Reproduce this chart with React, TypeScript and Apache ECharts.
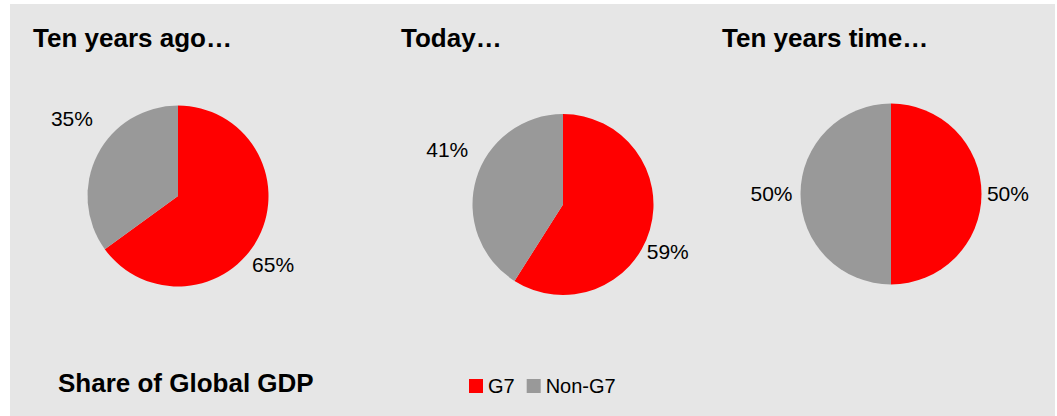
import React, { useEffect, useRef } from "react";
import * as echarts from "echarts";

// ---- data ----
const categories = ["G7", "Non-G7"];
const periods = ["Ten years ago…", "Today…", "Ten years time…"];
const g7Share = [65, 59, 50];
const nonG7Share = [35, 41, 50];
const footnote = "Share of Global GDP";

// ---- layout / style ----
const FONT = "'Liberation Sans', Arial, Helvetica, sans-serif";
const COLORS = ["#ff0000", "#999999"];
const PIE_CENTERS: [number, number][] = [
  [178, 196],
  [563, 204.5],
  [891, 194],
];
const PIE_RADIUS = 90.5;
const TITLE_LEFT = [33, 401, 722];
// per-label nudges (px) from ECharts' default outside position
const LABEL_NUDGE: [number, number][][] = [
  [[-11.6, 27], [0.6, -36]],
  [[-8.2, 22], [-2.8, -30]],
  [[0.4, -1], [-3, -1]],
];

export default function App() {
  const ref = useRef<HTMLDivElement>(null);
  useEffect(() => {
    if (!ref.current) return;
    const chart = echarts.init(ref.current, undefined, { renderer: "svg" });
    const series = periods.map((p, i) => ({
      type: "pie",
      name: p,
      center: PIE_CENTERS[i],
      radius: PIE_RADIUS,
      startAngle: 90,
      clockwise: true,
      avoidLabelOverlap: false,
      silent: true,
      itemStyle: { borderWidth: 0 },
      label: {
        show: true,
        position: "outside",
        formatter: "{c}%",
        fontSize: 21,
        fontFamily: FONT,
        color: "#000",
        distanceToLabelLine: 5,
      },
      labelLine: { show: false, length: 0, length2: 0 },
      labelLayout: (params: any) => {
        const n = LABEL_NUDGE[i][params.dataIndex];
        return { dx: n[0], dy: n[1] };
      },
      data: [
        { name: categories[0], value: g7Share[i] },
        { name: categories[1], value: nonG7Share[i] },
      ],
    }));
    chart.setOption({
      animation: false,
      color: COLORS,
      textStyle: { fontFamily: FONT },
      graphic: [
        {
          type: "rect",
          z: -10,
          silent: true,
          shape: { x: 10, y: 4, width: 1045, height: 412 },
          style: { fill: "#e6e6e6" },
        },
      ],
      title: [
        ...periods.map((p, i) => ({
          text: p,
          left: TITLE_LEFT[i],
          top: 25,
          padding: 0,
          textStyle: { fontSize: 26, fontWeight: "bold", color: "#000", fontFamily: FONT },
        })),
        {
          text: footnote,
          left: 58,
          top: 370,
          padding: 0,
          textStyle: { fontSize: 26, fontWeight: "bold", color: "#000", fontFamily: FONT },
        },
      ],
      legend: {
        data: categories,
        left: 469,
        top: 376,
        padding: 0,
        itemWidth: 14,
        itemHeight: 14,
        itemGap: 12,
        icon: "rect",
        selectedMode: false,
        textStyle: { fontSize: 20, color: "#000", fontFamily: FONT },
      },
      series,
    });
    return () => chart.dispose();
  }, []);
  return (
    <div
      ref={ref}
      style={{ position: "absolute", left: 0, top: 0, width: 1057, height: 416, background: "#fff" }}
    />
  );
}
